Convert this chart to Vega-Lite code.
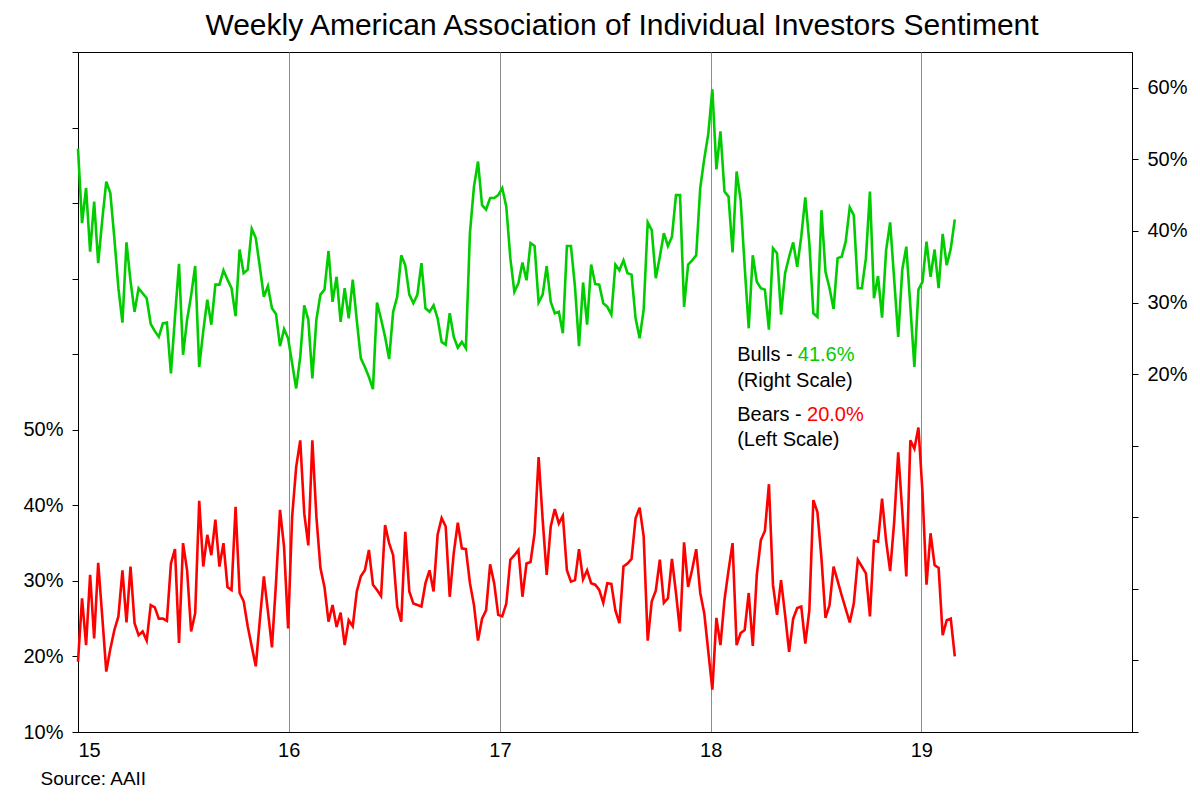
{
  "$schema": "https://vega.github.io/schema/vega-lite/v6.json",
  "width": 1054,
  "height": 680,
  "autosize": "none",
  "padding": {"left": 78, "top": 52, "right": 68, "bottom": 78},
  "background": "white",
  "title": {
    "text": "Weekly American Association of Individual Investors Sentiment",
    "font": "Liberation Sans",
    "fontSize": 30,
    "fontWeight": "normal",
    "color": "black",
    "anchor": "middle",
    "dx": 17,
    "offset": 11
  },
  "datasets": {
    "aaii": [
      {"d": "2015-01-01", "bull": 51.5, "bear": 19.3},
      {"d": "2015-01-08", "bull": 41.1, "bear": 27.7},
      {"d": "2015-01-15", "bull": 46.0, "bear": 21.5},
      {"d": "2015-01-22", "bull": 37.1, "bear": 30.8},
      {"d": "2015-01-29", "bull": 44.1, "bear": 22.4},
      {"d": "2015-02-05", "bull": 35.5, "bear": 32.4},
      {"d": "2015-02-12", "bull": 41.5, "bear": 25.3},
      {"d": "2015-02-19", "bull": 46.9, "bear": 18.0},
      {"d": "2015-02-26", "bull": 45.3, "bear": 21.0},
      {"d": "2015-03-05", "bull": 39.0, "bear": 23.5},
      {"d": "2015-03-12", "bull": 32.0, "bear": 25.3},
      {"d": "2015-03-19", "bull": 27.2, "bear": 31.4},
      {"d": "2015-03-26", "bull": 38.4, "bear": 24.5},
      {"d": "2015-04-02", "bull": 33.0, "bear": 31.9},
      {"d": "2015-04-09", "bull": 28.7, "bear": 24.4},
      {"d": "2015-04-16", "bull": 32.0, "bear": 22.8},
      {"d": "2015-04-23", "bull": 31.3, "bear": 23.3},
      {"d": "2015-04-30", "bull": 30.6, "bear": 22.1},
      {"d": "2015-05-07", "bull": 27.0, "bear": 26.8},
      {"d": "2015-05-14", "bull": 26.0, "bear": 26.5},
      {"d": "2015-05-21", "bull": 25.2, "bear": 25.0},
      {"d": "2015-05-28", "bull": 27.1, "bear": 25.0},
      {"d": "2015-06-04", "bull": 27.2, "bear": 24.7},
      {"d": "2015-06-11", "bull": 20.1, "bear": 32.3},
      {"d": "2015-06-18", "bull": 28.0, "bear": 34.2},
      {"d": "2015-06-25", "bull": 35.4, "bear": 21.8},
      {"d": "2015-07-02", "bull": 22.7, "bear": 35.0},
      {"d": "2015-07-09", "bull": 27.6, "bear": 31.4},
      {"d": "2015-07-16", "bull": 31.0, "bear": 23.3},
      {"d": "2015-07-23", "bull": 35.1, "bear": 25.7},
      {"d": "2015-07-30", "bull": 21.0, "bear": 40.6},
      {"d": "2015-08-06", "bull": 26.0, "bear": 31.9},
      {"d": "2015-08-13", "bull": 30.4, "bear": 36.1},
      {"d": "2015-08-20", "bull": 26.9, "bear": 33.4},
      {"d": "2015-08-27", "bull": 32.5, "bear": 38.1},
      {"d": "2015-09-03", "bull": 32.5, "bear": 31.9},
      {"d": "2015-09-10", "bull": 34.5, "bear": 35.0},
      {"d": "2015-09-17", "bull": 33.2, "bear": 29.2},
      {"d": "2015-09-24", "bull": 32.0, "bear": 28.8},
      {"d": "2015-10-01", "bull": 28.1, "bear": 39.8},
      {"d": "2015-10-08", "bull": 37.4, "bear": 28.4},
      {"d": "2015-10-15", "bull": 34.1, "bear": 27.3},
      {"d": "2015-10-22", "bull": 34.6, "bear": 24.0},
      {"d": "2015-10-29", "bull": 40.3, "bear": 21.3},
      {"d": "2015-11-05", "bull": 39.0, "bear": 18.7},
      {"d": "2015-11-12", "bull": 35.0, "bear": 24.8},
      {"d": "2015-11-19", "bull": 30.8, "bear": 30.6},
      {"d": "2015-11-26", "bull": 32.3, "bear": 26.0},
      {"d": "2015-12-03", "bull": 29.2, "bear": 21.2},
      {"d": "2015-12-10", "bull": 28.4, "bear": 29.7},
      {"d": "2015-12-17", "bull": 23.9, "bear": 39.4},
      {"d": "2015-12-24", "bull": 26.3, "bear": 34.5},
      {"d": "2015-12-31", "bull": 25.0, "bear": 23.7},
      {"d": "2016-01-07", "bull": 21.5, "bear": 38.5},
      {"d": "2016-01-14", "bull": 18.0, "bear": 45.1},
      {"d": "2016-01-21", "bull": 22.4, "bear": 48.6},
      {"d": "2016-01-28", "bull": 29.6, "bear": 38.9},
      {"d": "2016-02-04", "bull": 27.6, "bear": 34.7},
      {"d": "2016-02-11", "bull": 19.4, "bear": 48.6},
      {"d": "2016-02-18", "bull": 27.6, "bear": 38.5},
      {"d": "2016-02-25", "bull": 31.1, "bear": 31.7},
      {"d": "2016-03-03", "bull": 31.8, "bear": 29.2},
      {"d": "2016-03-10", "bull": 37.2, "bear": 24.6},
      {"d": "2016-03-17", "bull": 30.1, "bear": 26.8},
      {"d": "2016-03-24", "bull": 33.6, "bear": 23.9},
      {"d": "2016-03-31", "bull": 27.3, "bear": 25.8},
      {"d": "2016-04-07", "bull": 32.0, "bear": 21.5},
      {"d": "2016-04-14", "bull": 27.8, "bear": 24.8},
      {"d": "2016-04-21", "bull": 33.2, "bear": 24.0},
      {"d": "2016-04-28", "bull": 27.5, "bear": 28.6},
      {"d": "2016-05-05", "bull": 22.2, "bear": 30.6},
      {"d": "2016-05-12", "bull": 21.0, "bear": 31.4},
      {"d": "2016-05-19", "bull": 19.6, "bear": 34.1},
      {"d": "2016-05-26", "bull": 17.9, "bear": 29.5},
      {"d": "2016-06-02", "bull": 30.0, "bear": 28.8},
      {"d": "2016-06-09", "bull": 27.7, "bear": 28.0},
      {"d": "2016-06-16", "bull": 25.2, "bear": 37.4},
      {"d": "2016-06-23", "bull": 22.1, "bear": 35.0},
      {"d": "2016-06-30", "bull": 28.7, "bear": 33.4},
      {"d": "2016-07-07", "bull": 30.8, "bear": 26.6},
      {"d": "2016-07-14", "bull": 36.6, "bear": 24.6},
      {"d": "2016-07-21", "bull": 35.2, "bear": 36.5},
      {"d": "2016-07-28", "bull": 31.1, "bear": 28.6},
      {"d": "2016-08-04", "bull": 29.9, "bear": 27.0},
      {"d": "2016-08-11", "bull": 31.1, "bear": 26.8},
      {"d": "2016-08-18", "bull": 35.5, "bear": 26.6},
      {"d": "2016-08-25", "bull": 29.2, "bear": 29.7},
      {"d": "2016-09-01", "bull": 28.7, "bear": 31.4},
      {"d": "2016-09-08", "bull": 29.6, "bear": 28.6},
      {"d": "2016-09-15", "bull": 27.8, "bear": 36.1},
      {"d": "2016-09-22", "bull": 24.5, "bear": 38.3},
      {"d": "2016-09-29", "bull": 24.1, "bear": 37.2},
      {"d": "2016-10-06", "bull": 28.5, "bear": 27.9},
      {"d": "2016-10-13", "bull": 25.2, "bear": 33.7},
      {"d": "2016-10-20", "bull": 23.7, "bear": 37.7},
      {"d": "2016-10-27", "bull": 24.5, "bear": 34.3},
      {"d": "2016-11-03", "bull": 23.6, "bear": 34.2},
      {"d": "2016-11-10", "bull": 39.7, "bear": 29.7},
      {"d": "2016-11-17", "bull": 46.2, "bear": 26.8},
      {"d": "2016-11-24", "bull": 49.7, "bear": 22.1},
      {"d": "2016-12-01", "bull": 43.6, "bear": 25.0},
      {"d": "2016-12-08", "bull": 43.0, "bear": 26.1},
      {"d": "2016-12-15", "bull": 44.6, "bear": 32.2},
      {"d": "2016-12-22", "bull": 44.6, "bear": 29.7},
      {"d": "2016-12-29", "bull": 45.0, "bear": 25.5},
      {"d": "2017-01-05", "bull": 46.0, "bear": 25.3},
      {"d": "2017-01-12", "bull": 43.4, "bear": 27.0},
      {"d": "2017-01-19", "bull": 36.2, "bear": 32.8},
      {"d": "2017-01-26", "bull": 31.5, "bear": 33.4},
      {"d": "2017-02-02", "bull": 32.7, "bear": 34.1},
      {"d": "2017-02-09", "bull": 35.6, "bear": 27.9},
      {"d": "2017-02-16", "bull": 33.1, "bear": 32.3},
      {"d": "2017-02-23", "bull": 38.3, "bear": 32.5},
      {"d": "2017-03-02", "bull": 37.9, "bear": 36.3},
      {"d": "2017-03-09", "bull": 30.0, "bear": 46.4},
      {"d": "2017-03-16", "bull": 31.1, "bear": 38.1},
      {"d": "2017-03-23", "bull": 35.1, "bear": 30.8},
      {"d": "2017-03-30", "bull": 30.1, "bear": 37.2},
      {"d": "2017-04-06", "bull": 28.5, "bear": 39.5},
      {"d": "2017-04-13", "bull": 28.7, "bear": 37.6},
      {"d": "2017-04-20", "bull": 25.7, "bear": 38.6},
      {"d": "2017-04-27", "bull": 37.9, "bear": 31.4},
      {"d": "2017-05-04", "bull": 37.9, "bear": 29.9},
      {"d": "2017-05-11", "bull": 32.2, "bear": 30.1},
      {"d": "2017-05-18", "bull": 23.9, "bear": 34.2},
      {"d": "2017-05-25", "bull": 32.8, "bear": 30.2},
      {"d": "2017-06-01", "bull": 26.9, "bear": 31.4},
      {"d": "2017-06-08", "bull": 35.3, "bear": 29.7},
      {"d": "2017-06-15", "bull": 32.6, "bear": 29.5},
      {"d": "2017-06-22", "bull": 32.5, "bear": 28.8},
      {"d": "2017-06-29", "bull": 29.9, "bear": 27.1},
      {"d": "2017-07-06", "bull": 29.4, "bear": 29.7},
      {"d": "2017-07-13", "bull": 28.3, "bear": 29.6},
      {"d": "2017-07-20", "bull": 35.3, "bear": 26.1},
      {"d": "2017-07-27", "bull": 34.5, "bear": 24.4},
      {"d": "2017-08-03", "bull": 35.9, "bear": 31.9},
      {"d": "2017-08-10", "bull": 34.1, "bear": 32.3},
      {"d": "2017-08-17", "bull": 33.9, "bear": 32.9},
      {"d": "2017-08-24", "bull": 27.8, "bear": 38.3},
      {"d": "2017-08-31", "bull": 25.0, "bear": 39.7},
      {"d": "2017-09-07", "bull": 29.0, "bear": 35.9},
      {"d": "2017-09-14", "bull": 41.2, "bear": 22.1},
      {"d": "2017-09-21", "bull": 40.1, "bear": 27.3},
      {"d": "2017-09-28", "bull": 33.4, "bear": 28.7},
      {"d": "2017-10-05", "bull": 36.4, "bear": 32.8},
      {"d": "2017-10-12", "bull": 39.7, "bear": 27.1},
      {"d": "2017-10-19", "bull": 37.9, "bear": 27.7},
      {"d": "2017-10-26", "bull": 39.2, "bear": 32.9},
      {"d": "2017-11-02", "bull": 45.0, "bear": 28.4},
      {"d": "2017-11-09", "bull": 45.0, "bear": 23.3},
      {"d": "2017-11-16", "bull": 29.4, "bear": 35.1},
      {"d": "2017-11-23", "bull": 35.3, "bear": 29.2},
      {"d": "2017-11-30", "bull": 35.9, "bear": 31.5},
      {"d": "2017-12-07", "bull": 36.6, "bear": 34.2},
      {"d": "2017-12-14", "bull": 46.0, "bear": 28.4},
      {"d": "2017-12-21", "bull": 50.1, "bear": 25.7},
      {"d": "2017-12-28", "bull": 53.6, "bear": 20.6},
      {"d": "2018-01-04", "bull": 59.8, "bear": 15.6},
      {"d": "2018-01-11", "bull": 48.6, "bear": 25.1},
      {"d": "2018-01-18", "bull": 53.9, "bear": 21.5},
      {"d": "2018-01-25", "bull": 45.5, "bear": 27.5},
      {"d": "2018-02-01", "bull": 44.8, "bear": 31.4},
      {"d": "2018-02-08", "bull": 37.0, "bear": 35.0},
      {"d": "2018-02-15", "bull": 48.3, "bear": 21.5},
      {"d": "2018-02-22", "bull": 44.3, "bear": 23.1},
      {"d": "2018-03-01", "bull": 35.0, "bear": 23.5},
      {"d": "2018-03-08", "bull": 26.4, "bear": 28.4},
      {"d": "2018-03-15", "bull": 36.6, "bear": 21.4},
      {"d": "2018-03-22", "bull": 32.9, "bear": 30.8},
      {"d": "2018-03-29", "bull": 32.0, "bear": 35.4},
      {"d": "2018-04-05", "bull": 31.8, "bear": 36.6},
      {"d": "2018-04-12", "bull": 26.2, "bear": 42.8},
      {"d": "2018-04-19", "bull": 37.6, "bear": 29.5},
      {"d": "2018-04-26", "bull": 36.9, "bear": 25.5},
      {"d": "2018-05-03", "bull": 28.3, "bear": 30.1},
      {"d": "2018-05-10", "bull": 34.1, "bear": 25.5},
      {"d": "2018-05-17", "bull": 36.4, "bear": 20.6},
      {"d": "2018-05-24", "bull": 38.4, "bear": 25.0},
      {"d": "2018-05-31", "bull": 35.0, "bear": 26.4},
      {"d": "2018-06-07", "bull": 39.2, "bear": 26.6},
      {"d": "2018-06-14", "bull": 44.7, "bear": 21.7},
      {"d": "2018-06-21", "bull": 38.3, "bear": 26.1},
      {"d": "2018-06-28", "bull": 28.5, "bear": 40.7},
      {"d": "2018-07-05", "bull": 28.0, "bear": 39.1},
      {"d": "2018-07-12", "bull": 42.9, "bear": 33.0},
      {"d": "2018-07-19", "bull": 34.3, "bear": 25.1},
      {"d": "2018-07-26", "bull": 32.0, "bear": 26.8},
      {"d": "2018-08-02", "bull": 29.1, "bear": 31.9},
      {"d": "2018-08-09", "bull": 36.2, "bear": 30.0},
      {"d": "2018-08-16", "bull": 36.4, "bear": 28.1},
      {"d": "2018-08-23", "bull": 38.5, "bear": 26.3},
      {"d": "2018-08-30", "bull": 43.3, "bear": 24.5},
      {"d": "2018-09-06", "bull": 42.2, "bear": 27.0},
      {"d": "2018-09-13", "bull": 32.0, "bear": 32.8},
      {"d": "2018-09-20", "bull": 32.0, "bear": 31.9},
      {"d": "2018-09-27", "bull": 36.2, "bear": 31.0},
      {"d": "2018-10-04", "bull": 45.5, "bear": 25.3},
      {"d": "2018-10-11", "bull": 30.6, "bear": 35.3},
      {"d": "2018-10-18", "bull": 33.7, "bear": 35.2},
      {"d": "2018-10-25", "bull": 27.9, "bear": 40.9},
      {"d": "2018-11-01", "bull": 37.3, "bear": 35.3},
      {"d": "2018-11-08", "bull": 41.2, "bear": 31.3},
      {"d": "2018-11-15", "bull": 33.2, "bear": 37.8},
      {"d": "2018-11-22", "bull": 25.2, "bear": 47.0},
      {"d": "2018-11-29", "bull": 34.6, "bear": 39.2},
      {"d": "2018-12-06", "bull": 37.8, "bear": 30.6},
      {"d": "2018-12-13", "bull": 29.5, "bear": 48.6},
      {"d": "2018-12-20", "bull": 21.0, "bear": 47.5},
      {"d": "2018-12-27", "bull": 31.8, "bear": 50.3},
      {"d": "2019-01-03", "bull": 32.9, "bear": 41.8},
      {"d": "2019-01-10", "bull": 38.5, "bear": 29.5},
      {"d": "2019-01-17", "bull": 33.6, "bear": 36.3},
      {"d": "2019-01-24", "bull": 37.4, "bear": 32.1},
      {"d": "2019-01-31", "bull": 32.0, "bear": 31.7},
      {"d": "2019-02-07", "bull": 39.6, "bear": 22.8},
      {"d": "2019-02-14", "bull": 35.2, "bear": 24.8},
      {"d": "2019-02-21", "bull": 37.5, "bear": 25.0},
      {"d": "2019-02-28", "bull": 41.6, "bear": 20.0}
    ],
    "notes": [
      {"d": "2018-02-16", "v": 59.9, "t": "Bulls - ", "k": "plain"},
      {"d": "2018-06-01", "v": 59.9, "t": "41.6%", "k": "bull"},
      {"d": "2018-02-16", "v": 56.45, "t": "(Right Scale)", "k": "plain"},
      {"d": "2018-02-16", "v": 51.95, "t": "Bears - ", "k": "plain"},
      {"d": "2018-06-17", "v": 51.95, "t": "20.0%", "k": "bear"},
      {"d": "2018-02-16", "v": 48.65, "t": "(Left Scale)", "k": "plain"}
    ]
  },
  "data": {"name": "aaii"},
  "encoding": {
    "x": {
      "field": "d",
      "type": "temporal",
      "scale": {"type": "utc", "domain": ["2015-01-01", "2020-01-01"]},
      "axis": {
        "values": [
          {"year": 2015, "month": 1, "date": 1, "utc": true},
          {"year": 2016, "month": 1, "date": 1, "utc": true},
          {"year": 2017, "month": 1, "date": 1, "utc": true},
          {"year": 2018, "month": 1, "date": 1, "utc": true},
          {"year": 2019, "month": 1, "date": 1, "utc": true}
        ],
        "labelExpr": "utcFormat(datum.value, '%y')",
        "grid": true,
        "gridColor": "#8c8c8c",
        "gridWidth": 1,
        "ticks": false,
        "labelPadding": 8,
        "labelFontSize": 20,
        "labelOverlap": false,
        "domainColor": "black",
        "title": "Source: AAII",
        "titleFont": "Liberation Sans",
        "titleFontSize": 19,
        "titleFontWeight": "normal",
        "titleAnchor": "start",
        "titleAlign": "left",
        "titleBaseline": "middle",
        "titleX": -38,
        "titleY": 46
      }
    }
  },
  "layer": [
    {
      "mark": {"type": "line", "color": "#00cc00", "strokeWidth": 2.6},
      "encoding": {
        "y": {
          "field": "bull",
          "type": "quantitative",
          "scale": {"domain": [-30, 65], "nice": false, "zero": false},
          "axis": {
            "orient": "right",
            "values": [-30, -20, -10, 0, 10, 20, 30, 40, 50, 60],
            "labelExpr": "datum.value >= 20 ? datum.value + '%' : ''",
            "tickSize": 6,
            "labelPadding": 9,
            "labelFontSize": 20,
            "grid": false,
            "title": null,
            "domainColor": "black"
          }
        }
      }
    },
    {
      "mark": {"type": "line", "color": "#ff0000", "strokeWidth": 2.6},
      "encoding": {
        "y": {
          "field": "bear",
          "type": "quantitative",
          "scale": {"domain": [10, 100], "nice": false, "zero": false},
          "axis": {
            "orient": "left",
            "values": [10, 20, 30, 40, 50, 60, 70, 80, 90, 100],
            "labelExpr": "datum.value <= 50 ? datum.value + '%' : ''",
            "tickSize": 6,
            "labelPadding": 9,
            "labelFontSize": 20,
            "grid": false,
            "title": null,
            "domainColor": "black"
          }
        }
      }
    },
    {
      "data": {"name": "notes"},
      "mark": {"type": "text", "align": "left", "baseline": "middle", "font": "Liberation Sans", "fontSize": 20},
      "encoding": {
        "y": {
          "field": "v",
          "type": "quantitative",
          "scale": {"domain": [10, 100], "nice": false, "zero": false},
          "axis": null
        },
        "text": {"field": "t"},
        "color": {
          "field": "k",
          "type": "nominal",
          "scale": {"domain": ["plain", "bull", "bear"], "range": ["#000000", "#00cc00", "#ff0000"]},
          "legend": null
        }
      }
    }
  ],
  "resolve": {"scale": {"y": "independent"}, "axis": {"y": "independent"}},
  "config": {
    "view": {"stroke": "black", "strokeWidth": 1},
    "axis": {
      "labelFont": "Liberation Sans",
      "labelColor": "black",
      "tickColor": "black",
      "domainColor": "black"
    }
  }
}
